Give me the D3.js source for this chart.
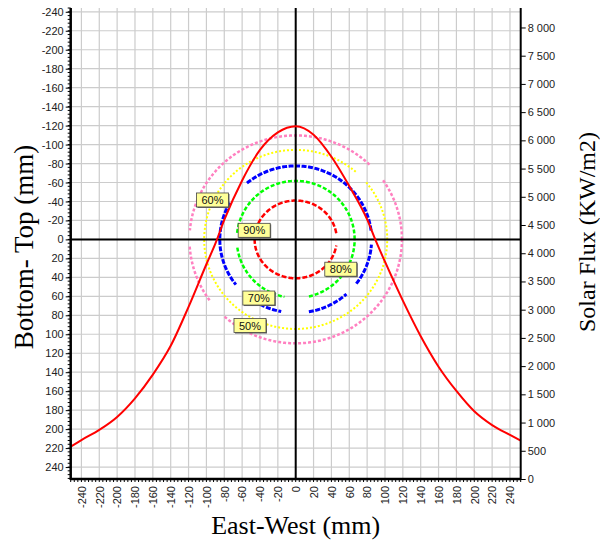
<!DOCTYPE html>
<html>
<head>
<meta charset="utf-8">
<script src="https://cdn.jsdelivr.net/npm/d3@7"></script>
<style>
  body { margin: 0; background: #fff; }
  text { font-family: "Liberation Sans", Arial, sans-serif; }
</style>
</head>
<body>
<div id="chart"></div>
<script>
// Solar flux profile across the receiver (East-West), mm vs KW/m2
const fluxX = [-252, -240, -220, -200, -180, -160, -140, -120, -100, -90, -80, -60, -40, -20, 0,
  20, 40, 60, 80, 90, 100, 120, 140, 160, 180, 200, 220, 240, 252];
const fluxY = [575, 690, 870, 1100, 1430, 1850, 2360, 3050, 3805, 4170, 4590, 5290, 5830, 6140, 6250,
  6100, 5710, 5190, 4600, 4210, 3850, 3160, 2530, 1990, 1560, 1200, 955, 780, 680];

// Iso-flux contours (percent of peak), half widths in mm
const contourLevels = ['90%', '80%', '70%', '60%', '50%'];
const contourRx = [46, 66, 85, 102.5, 119];
const contourRy = [41, 61.7, 77.5, 94.4, 109.6];
// angular gaps (degrees) where the contour trace is missing
const contourGaps = [
  [[352, 368]],
  [[260, 282], [176, 187]],
  [[357, 366], [260, 279], [313, 322], [219, 241], [132, 149]],
  [[41, 48]],
  [[36, 45], [218, 227], [176, 183]]
];
const contourColors = ['#ff0000', '#00ff00', '#0000ff', '#ffff00', '#ff80c0'];

// contour label anchors (mm)
const labelX = [-46.5, 50.5, -41.3, -93.2, -51.2];
const labelY = [-9.6, 31.4, 61.8, -41.6, 90.8];

// ticks
const xTicks = d3.range(-240, 241, 20);
const yTicks = d3.range(-240, 241, 20);
const fluxTicks = d3.range(0, 8001, 500);

const width = 600;
const height = 540;
const margin = { top: 8, right: 79.3, bottom: 61, left: 70.7 };

const x = d3.scaleLinear().domain([-252, 252]).range([margin.left, width - margin.right]);
const y = d3.scaleLinear().domain([-244, 252.6]).range([margin.top, height - margin.bottom]);
const yFlux = d3.scaleLinear().domain([0, 8345]).range([height - margin.bottom, margin.top]);

const svg = d3.select('#chart').append('svg')
  .attr('width', width)
  .attr('height', height);

// Grid
svg.append('g')
  .attr('class', 'grid-x')
  .selectAll('line')
  .data(xTicks)
.join('line')
  .attr('x1', d => x(d)).attr('x2', d => x(d))
  .attr('y1', margin.top).attr('y2', height - margin.bottom)
  .attr('stroke', '#cccccc')
  .attr('stroke-width', 1.2);

svg.append('g')
  .attr('class', 'grid-y')
  .selectAll('line')
  .data(yTicks)
.join('line')
  .attr('x1', margin.left).attr('x2', width - margin.right)
  .attr('y1', d => y(d)).attr('y2', d => y(d))
  .attr('stroke', '#cccccc')
  .attr('stroke-width', 1.2);

// Contours
const inGap = (a, gaps) => gaps.some(g => (a >= g[0] && a <= g[1]) || (a + 360 >= g[0] && a + 360 <= g[1]));
const contourLine = d3.line()
  .defined(d => d.on)
  .x(d => x(d.x))
  .y(d => y(d.y));

const dashes = ['5,2', '4,2', '5,1.5', '2,2', '3,2'];
const widths = [2.5, 2.5, 3, 2, 2.5];

contourLevels.forEach(function(lvl, i) {
  const pts = d3.range(0, 361, 1).map(a => ({
    x: contourRx[i] * Math.cos(a * Math.PI / 180),
    y: -contourRy[i] * Math.sin(a * Math.PI / 180),
    on: !inGap(a, contourGaps[i])
  }));
  svg.append('path')
    .datum(pts)
    .attr('class', 'contour')
    .attr('d', contourLine)
    .attr('fill', 'none')
    .attr('stroke', contourColors[i])
    .attr('stroke-width', widths[i])
    .attr('stroke-dasharray', dashes[i]);
});

// Cross hair through the origin
svg.append('line')
  .attr('x1', x(0)).attr('x2', x(0))
  .attr('y1', margin.top).attr('y2', height - margin.bottom)
  .attr('stroke', '#000').attr('stroke-width', 2);
svg.append('line')
  .attr('x1', margin.left).attr('x2', width - margin.right)
  .attr('y1', y(0)).attr('y2', y(0))
  .attr('stroke', '#000').attr('stroke-width', 2);

// Flux profile
const fluxLine = d3.line()
  .x((d, i) => x(fluxX[i]))
  .y(d => yFlux(d))
  .curve(d3.curveMonotoneX);

svg.append('path')
  .datum(fluxY)
  .attr('d', fluxLine)
  .attr('fill', 'none')
  .attr('stroke', '#ff0000')
  .attr('stroke-width', 2);

// Contour labels
const labels = svg.append('g').attr('class', 'labels')
  .selectAll('g')
  .data(contourLevels)
.join('g')
  .attr('transform', (d, i) => 'translate(' + x(labelX[i]) + ',' + y(labelY[i]) + ')');

labels.append('rect')
  .attr('x', -15).attr('y', -6)
  .attr('width', 32).attr('height', 14)
  .attr('fill', '#666');
labels.append('rect')
  .attr('x', -16).attr('y', -7)
  .attr('width', 32).attr('height', 14)
  .attr('fill', '#ffff99')
  .attr('stroke', '#444')
  .attr('stroke-width', 0.8);
labels.append('text')
  .attr('y', 4)
  .attr('text-anchor', 'middle')
  .style('font-size', '11px')
  .attr('fill', '#111')
  .text(d => d);

// Axes (plain hyphen minus, like the original)
const intFmt = d => String(d);

const xAxis = svg.append('g')
  .attr('transform', 'translate(0,' + (height - margin.bottom) + ')')
  .call(d3.axisBottom(x).tickValues(xTicks).tickSize(0).tickFormat(intFmt));
xAxis.select('.domain').remove();
xAxis.selectAll('text')
  .attr('transform', 'rotate(-90)')
  .attr('text-anchor', 'end')
  .attr('x', -7)
  .attr('y', 0)
  .attr('dy', '0.35em')
  .style('font-size', '11px')
  .attr('fill', '#222');

// minor ticks on bottom and left axes
svg.append('g')
  .selectAll('line')
  .data(d3.range(-252, 253, 4))
.join('line')
  .attr('x1', d => x(d)).attr('x2', d => x(d))
  .attr('y1', height - margin.bottom).attr('y2', height - margin.bottom + 3)
  .attr('stroke', '#000');
svg.append('g')
  .selectAll('line')
  .data(d3.range(-244, 253, 4))
.join('line')
  .attr('x1', margin.left - 3).attr('x2', margin.left)
  .attr('y1', d => y(d)).attr('y2', d => y(d))
  .attr('stroke', '#000');

const yAxis = svg.append('g')
  .attr('transform', 'translate(' + margin.left + ',0)')
  .call(d3.axisLeft(y).tickValues(yTicks).tickSize(5).tickPadding(2).tickFormat(intFmt));
yAxis.select('.domain').remove();
yAxis.selectAll('text').style('font-size', '11px').attr('fill', '#222');

const fmt = d => d3.format(',')(d).replace(',', '\u00a0');
const rAxis = svg.append('g')
  .attr('transform', 'translate(' + (width - margin.right) + ',0)')
  .call(d3.axisRight(yFlux).tickValues(fluxTicks).tickSize(5).tickPadding(2).tickFormat(fmt));
rAxis.select('.domain').remove();
rAxis.selectAll('text').style('font-size', '11px').attr('fill', '#222');

// axis frame lines
svg.append('line')
  .attr('x1', margin.left).attr('x2', margin.left)
  .attr('y1', margin.top).attr('y2', height - margin.bottom + 1)
  .attr('stroke', '#000').attr('stroke-width', 2.5);
svg.append('line')
  .attr('x1', margin.left).attr('x2', width - margin.right)
  .attr('y1', height - margin.bottom).attr('y2', height - margin.bottom)
  .attr('stroke', '#000').attr('stroke-width', 2.5);
svg.append('line')
  .attr('x1', width - margin.right).attr('x2', width - margin.right)
  .attr('y1', margin.top).attr('y2', height - margin.bottom + 1)
  .attr('stroke', '#000').attr('stroke-width', 2);

// Titles
svg.append('text')
  .attr('x', x(0))
  .attr('y', 534)
  .attr('text-anchor', 'middle')
  .style('font-family', '"Liberation Serif", "Times New Roman", serif')
  .style('font-size', '26px')
  .text('East-West (mm)');

svg.append('text')
  .attr('transform', 'translate(33,247) rotate(-90)')
  .attr('text-anchor', 'middle')
  .style('font-family', '"Liberation Serif", "Times New Roman", serif')
  .style('font-size', '27px')
  .text('Bottom- Top (mm)');

svg.append('text')
  .attr('transform', 'translate(595,232) rotate(-90)')
  .attr('text-anchor', 'middle')
  .style('font-family', '"Liberation Serif", "Times New Roman", serif')
  .style('font-size', '24px')
  .text('Solar Flux (KW/m2)');
</script>
</body>
</html>
